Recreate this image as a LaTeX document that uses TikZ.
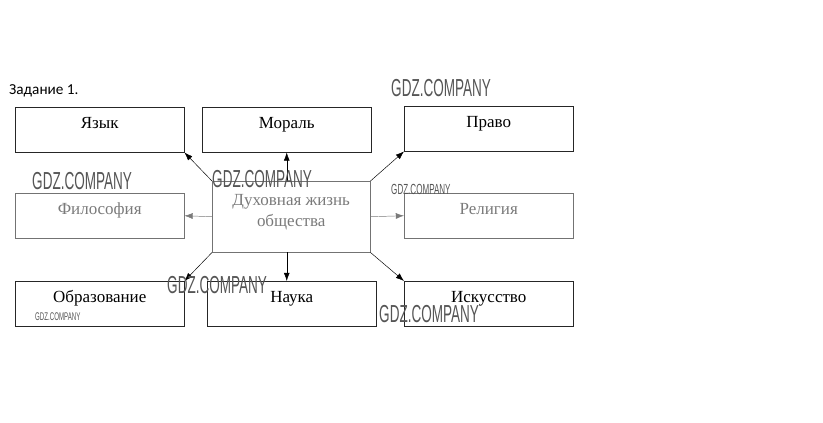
\documentclass[tikz,border=0pt]{standalone}
\usepackage{fontspec}
\setmainfont{Liberation Serif}
\newfontfamily\capfont{Carlito}
\newfontfamily\wmfont[FakeStretch=0.55]{Liberation Sans}
\usepackage{xcolor}
\definecolor{xgrey}{HTML}{7A7A7A}
\definecolor{xwm}{HTML}{555555}
\usetikzlibrary{positioning, arrows.meta}
\tikzset{
  %% Styles %%
  topicbox/.style = {
    draw=#1, thin, anchor=north west,
    minimum width=5.07cm, minimum height=1.35cm,
    text height=0.35cm, text depth=0.45cm,
    font=\fontsize{14.5}{16}\selectfont
  },
  topicbox/.default = {black!85},
  link/.style = {#1, thin, -{Latex[length=7pt, width=5pt]}},
  link/.default = {black},
  gdz/.style = {anchor=north west, inner sep=0, text=xwm,
    font=\wmfont\fontsize{#1}{#1}\selectfont},
}

\begin{document}
\begin{tikzpicture}[x=0.03cm, y=-0.03cm]
            \useasboundingbox (0,0) rectangle (823,422);
            \node[anchor=base west, inner sep=0, font=\capfont\fontsize{13}{15}\selectfont] (task) at (9,94) {Задание 1.};
            % outer boxes
            \foreach \name/\x/\y/\txt in {yazyk/15/107/Язык, moral/202/107/Мораль, pravo/404/106/Право,
                obraz/15/281/Образование, nauka/207/281/Наука, iskus/404/281/Искусство}
                \node[topicbox] (\name) at (\x,\y) {\txt};
            \node[topicbox=black!55, text=xgrey] (filos) at (15,193) {Философия};
            \node[topicbox=black!55, text=xgrey] (relig) at (404,193) {Религия};
            % centre
            \node[draw=black!55, thin, anchor=north west, minimum width=4.74cm, minimum height=2.13cm,
                align=center, text=xgrey, text depth=0.4cm, font=\fontsize{14.5}{18}\selectfont] (life) at (212,181)
                {Духовная жизнь\\общества};
            % arrows
            \draw[link] (life.north west) -- (yazyk.south east);
            \draw[link] (life.north -| moral.south) -- (moral.south);
            \draw[link] (life.north east) -- (pravo.south west);
            \draw[link=xgrey] (life.west) -- (filos.east);
            \draw[link=xgrey] (life.east) -- (relig.west);
            \draw[link] (life.south west) -- (obraz.north east);
            \draw[link] (life.south -| moral.south) coordinate (n0) -- (nauka.north -| n0);
            \draw[link] (life.south east) -- (iskus.north west);
            % watermarks
            \node[gdz=21] (wm1) at (391,79) {GDZ.COMPANY};
            \node[gdz=21] (wm2) at (32,172) {GDZ.COMPANY};
            \node[gdz=21] (wm3) at (212,170) {GDZ.COMPANY};
            \node[gdz=12.5] (wm4) at (391,184) {GDZ.COMPANY};
            \node[gdz=21] (wm5) at (167,276) {GDZ.COMPANY};
            \node[gdz=21] (wm6) at (379,305) {GDZ.COMPANY};
            \node[gdz=9.5] (wm7) at (35,312) {GDZ.COMPANY};
        \end{tikzpicture}
\end{document}
